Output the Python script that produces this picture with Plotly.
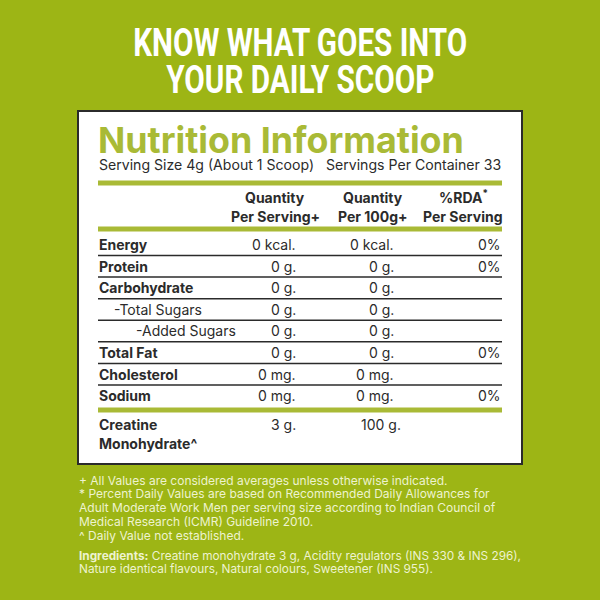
import plotly.graph_objects as go

GREEN = "#9db515"
RULE = "#a9ba36"
DARK = "#2b2b2b"
FONT = "Inter"

headline = ["KNOW WHAT GOES INTO", "YOUR DAILY SCOOP"]
headline_width = [334, 268]
panel_title = "Nutrition Information"
serving_size = "Serving Size 4g (About 1 Scoop)"
servings = "Servings Per Container 33"

col_heads = [
    ["Quantity", "Per Serving+"],
    ["Quantity", "Per 100g+"],
    ["%RDA<sup>*</sup>", "Per Serving"],
]

nutrients = ["Energy", "Protein", "Carbohydrate", "-Total Sugars", "-Added Sugars",
             "Total Fat", "Cholesterol", "Sodium"]
per_serving = ["0 kcal.", "0 g.", "0 g.", "0 g.", "0 g.", "0 g.", "0 mg.", "0 mg."]
per_100g = ["0 kcal.", "0 g.", "0 g.", "0 g.", "0 g.", "0 g.", "0 mg.", "0 mg."]
rda = ["0%", "0%", "", "", "", "0%", "", "0%"]
bold_row = [True, True, True, False, False, True, True, True]
indent = [0, 0, 0, 15, 37, 0, 0, 0]

notes = [
    "+ All Values are considered averages unless otherwise indicated.",
    "* Percent Daily Values are based on Recommended Daily Allowances for",
    "Adult Moderate Work Men per serving size according to Indian Council of",
    "Medical Research (ICMR) Guideline 2010.",
    "^ Daily Value not established.",
]
ingredients = [
    "<b>Ingredients:</b> Creatine monohydrate 3 g, Acidity regulators (INS 330 & INS 296),",
    "Nature identical flavours, Natural colours, Sweetener (INS 955).",
]

fig = go.Figure()
ann = []


def label(x, y, text, size=14, color=DARK, anchor="left", family=FONT, weight=None):
    ann.append(dict(x=x, y=y, text=text, showarrow=False, xanchor=anchor, yanchor="middle",
                    xref="x", yref="y", borderpad=0,
                    font=dict(family=family, size=size, color=color, weight=weight)))


def rule(y0, y1, color):
    fig.add_shape(type="rect", x0=98, x1=502, y0=y0, y1=y1, fillcolor=color, line_width=0, layer="above")


# panel
fig.add_shape(type="rect", x0=78, x1=522, y0=111, y1=464, fillcolor="white",
              line=dict(color=DARK, width=2), layer="below")

label(300, 43, headline[0], size=38, color="white", anchor="center", family="Roboto", weight=700)
label(300, 80, headline[1], size=38, color="white", anchor="center", family="Roboto", weight=700)

label(96.5, 140, "<b>" + panel_title + "</b>", size=35.8, color=RULE)
label(97.5, 165, serving_size, size=14.1)
label(502, 165, servings, size=14.1, anchor="right")

rule(180.5, 185.5, RULE)
rule(226.5, 231.5, RULE)
rule(407.5, 412.5, RULE)

for cx, head in zip([275, 373, 463], col_heads):
    label(cx, 197, "<b>" + head[0] + "</b>", anchor="center")
    label(cx, 216, "<b>" + head[1] + "</b>", anchor="center")

for i, name in enumerate(nutrients):
    y = 244.5 + i * 21.6
    label(97.5 + indent[i], y, "<b>" + name + "</b>" if bold_row[i] else name)
    label(297, y, per_serving[i], anchor="right")
    label(395, y, per_100g[i], anchor="right")
    if rda[i]:
        label(502, y, rda[i], anchor="right")
    if i < len(nutrients) - 1:
        rule(y + 10.2, y + 11.7, DARK)

label(97.5, 424, "<b>Creatine</b>")
label(97.5, 443, "<b>Monohydrate^</b>")
label(297, 424, "3 g.", anchor="right")
label(402, 424, "100 g.", anchor="right")

for i, line in enumerate(notes):
    label(78, 480 + i * 13.8, line, size=12, color="#eef3cf")
for i, line in enumerate(ingredients):
    label(78, 555.5 + i * 13.8, line, size=11.8, color="#eef3cf")

fig.update_layout(
    width=600, height=600,
    margin=dict(l=0, r=0, t=0, b=0),
    paper_bgcolor=GREEN,
    plot_bgcolor=GREEN,
    xaxis=dict(range=[0, 600], visible=False, fixedrange=True),
    yaxis=dict(range=[600, 0], visible=False, fixedrange=True),
    annotations=ann,
    showlegend=False,
)

# body margin would leave a white edge, and no narrow font is installed so squeeze the headline
post = """
document.body.style.margin = '0';
document.body.style.background = '%s';
var widths = {'%s': %d, '%s': %d};
document.querySelectorAll('.annotation-text').forEach(function (t) {
    var w = widths[t.textContent];
    if (w) {
        t.setAttribute('textLength', w);
        t.setAttribute('lengthAdjust', 'spacingAndGlyphs');
    }
});
""" % (GREEN, headline[0], headline_width[0], headline[1], headline_width[1])
fig.write_html("out.html", config=dict(displayModeBar=False), post_script=post)
